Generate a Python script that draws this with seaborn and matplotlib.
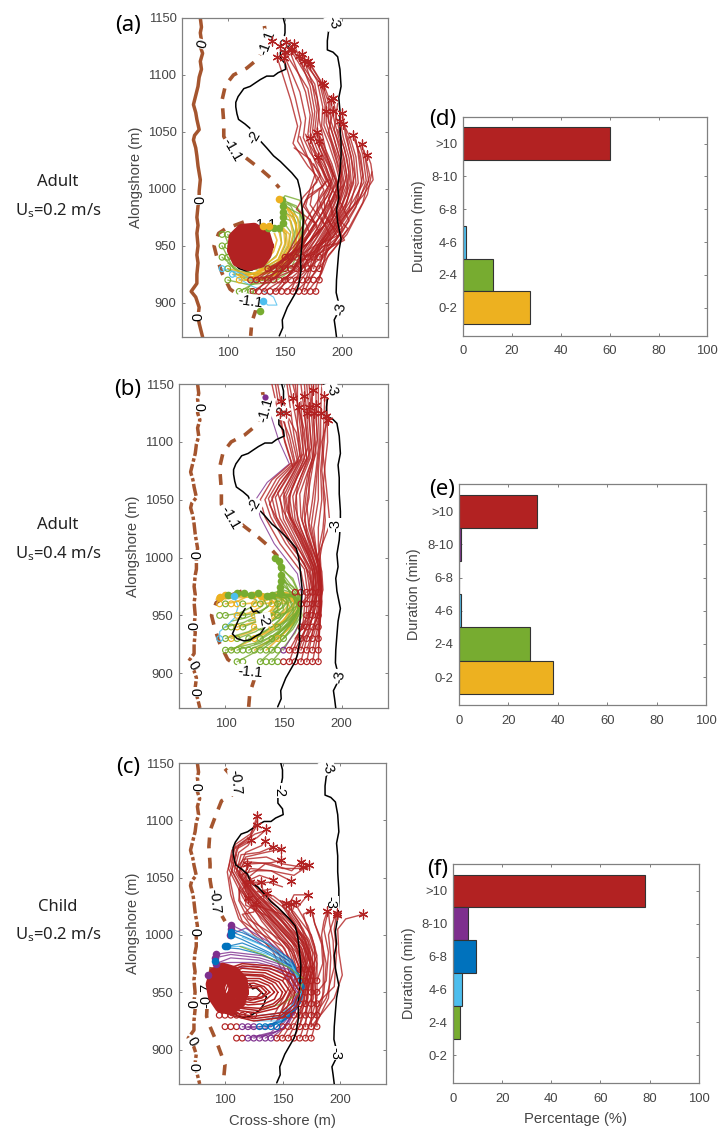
import matplotlib
matplotlib.use("Agg")
import matplotlib.pyplot as plt
import pandas as pd
import seaborn as sns

sns.set_theme(style="white")
plt.rcParams["font.family"] = ["Liberation Sans", "DejaVu Sans"]
plt.rcParams["mathtext.default"] = "regular"
plt.rcParams["lines.solid_capstyle"] = "round"

W, H = 721, 1130
YEL, GRN, LBL, BLU, PUR, RED = "#EDB120", "#77AC30", "#4DBEEE", "#0072BD", "#7E2F8E", "#B22222"
BRN = "#A5552E"
GREY = "#808080"
TXT = "#454545"

# ---------- bathymetry contours (cross-shore, alongshore) ----------
C0 = [(76,1150),(77,1142),(76,1137),(77,1130),(76,1125),(78,1119),(76,1112),(77,1105),(75,1098),(74,1090),(72,1082),(70,1074),
      (72,1067),(73,1061),(75,1052),(71,1047),(70,1043),(72,1036),(73,1029),(74,1020),(76,1008),(75,998),(75,990),(74,985),
      (73,975),(74,968),(73,961),(74,950),(73,942),(74,935),(73,925),(73,917),(68,910),(72,905),(75,896),(74,888),(75,882),(78,870)]
C2 = [(148.5,1150),(150,1144),(150,1137),(149,1132),(150,1127),(146,1120),(146,1115),(150,1110),(150.6,1105),(144,1102),(140,1099),(134,1099),
      (128.5,1096),(124,1093),(119.6,1090),(114,1088),(109,1081),(107,1076),(107,1072),(108,1066),(109.4,1061),(115,1057),(119.6,1053),
      (123,1045),(128.5,1042),(134,1036),(140,1029),(146,1024),(152,1018),(156,1014),(161,1008),(163,1000),(164,993),(165,983),
      (166,973),(165,955),(163.6,938),(164,928),(162,916),(160,910),(156,903),(152,896),(147.6,885),(148,878),(145,871)]
C2_IN = [(117,956),(114,951),(111.5,947),(109,941),(106,934),(110,930),(116,928),(121.5,929),(126,932),(130,934),(134,940),(136,946),(127,954),(124,953),(121.6,957)]
C3 = [(184.4,1150),(191,1146),(188,1138),(187,1130),(187,1122),(192,1120),(196,1116),(198,1105),(199,1090),(197,1080),(198,1069),(198,1055),
      (199,1040),(199,1029),(198,1015),(196,1003),(197,992),(195,982),(196,971),(199,956),(197,945),(196,933),(195,920),(194.7,909),
      (198,895),(193,885),(194,878),(195,870)]
C11_A = [(132,1143),(134,1128),(125,1113),(116.6,1106),(105,1100),(98,1091),(95,1078),(96.5,1058),(96.5,1046),
         (103,1034),(111,1031),(120,1024),(129,1017),(137,1010),(145,1001)]
C11_B = [(114,971),(98,965),(92,961),(88,950),(91,938),(95,926),(102,912),(112,905),(125.6,897),(121,883),(120,871)]
C07_A = [(100,1145),(106,1138),(109,1130),(106,1122),(97,1117),(93,1107),(87,1091),(86,1077),(87,1062),(87,1048),
         (90,1030),(96,1019),(100,1012)]
C07_B = [(88,972),(85,950),(84,929),(87,920),(93,906),(100,887),(98.5,871)]

LABELS_A = [("0",78,1127,75),("0",76,990,90),("0",74,888,90),("-1.1",134,1128,70),("-1.1",103.5,1034,-60),
            ("-1.1",120,901,-8),("-1.1",132,968,0),("-2",150.5,1127,70),("-2",123,1045,60),("-3",192,1146,-70),("-3",198.5,895,80)]
LABELS_B = [("0",80,1130,90),("0",76,1002,90),("0",73,941,90),("0",72,907,-60),("0",77,884,90),("-1.1",134.5,1128,75),
            ("-1.1",104,1034,-60),("-1.1",121,901,-5),("-2",149,1125,70),("-2",125,1045,60),("-2",133,946,-80),
            ("-3",191,1145,-70),("-3",195,1028,90),("-3",198.5,897,80)]
LABELS_C = [("0",78,1129,90),("0",77,1003,90),("0",73,940,90),("0",71,907,-60),("0",76,885,90),("-0.7",109.5,1133,-85),
            ("-0.7",90.5,1029,-85),("-0.7",84,947,90),("-2",147.5,1126,-90),("-3",189,1146,-70),("-3",192,1028,-90),("-3",196,897,-90)]

# ---------- panel (a) trajectories ----------
A_RED = [
 [(125,910),(148,935),(164,965),(176,985),(184,999),(178,1011),(170,1020),(157,1040),(161,1055),(155,1078),(143,1116)],
 [(130,910),(152,935),(168,965),(180,985),(188,1000),(180,1014),(168,1030),(161,1042),(164,1058),(159,1080),(149,1115)],
 [(135,920),(155,940),(170,965),(182,985),(190,1000),(183,1016),(172,1032),(166,1045),(168,1062),(163,1085),(146,1125)],
 [(140,920),(160,940),(174,965),(186,985),(192,1000),(185,1018),(176,1034),(170,1048),(172,1065),(168,1085),(151,1129)],
 [(145,910),(163,940),(178,965),(188,985),(195,1000),(188,1020),(180,1036),(174,1050),(176,1068),(172,1090),(158,1127)],
 [(150,920),(166,942),(180,965),(190,985),(197,1002),(191,1022),(184,1038),(178,1052),(180,1070),(176,1092),(156,1123)],
 [(155,910),(170,945),(183,965),(192,985),(199,1002),(194,1022),(188,1040),(182,1055),(183,1072),(178,1095),(165,1118)],
 [(160,920),(173,945),(186,967),(195,985),(201,1004),(197,1025),(191,1042),(186,1058),(186,1075),(181,1095),(172,1110)],
 [(165,910),(176,945),(188,967),(197,985),(204,1004),(200,1025),(195,1045),(190,1060),(189,1078),(184,1091)],
 [(170,920),(178,945),(190,968),(200,985),(207,1005),(204,1027),(199,1045),(195,1062),(192,1080)],
 [(175,930),(180,950),(193,970),(203,987),(210,1005),(208,1028),(203,1046),(200,1067)],
 [(178,940),(183,952),(196,972),(206,988),(214,1005),(212,1028),(207,1045),(201,1057)],
 [(180,930),(186,955),(199,974),(210,990),(219,1006),(216,1030),(209,1047)],
 [(180,920),(188,955),(202,976),(215,992),(223,1007),(220,1028),(217,1039)],
 [(176,910),(190,955),(204,978),(218,994),(227,1008),(225,1022),(222,1030)],
 [(122,910),(145,925),(165,950),(182,978),(193,1001),(186,1019),(178,1035),(172,1050),(174,1066),(170,1088),(150,1120)],
 [(127,920),(150,930),(172,955),(186,978),(196,1002),(190,1021),(182,1037),(176,1051),(178,1069),(174,1091),(155,1122)],
 [(132,910),(155,925),(176,955),(190,978),(200,1003),(195,1024),(190,1041),(184,1056),(185,1073),(180,1094),(162,1117)],
 [(137,920),(160,930),(180,955),(194,978),(202,1004),(198,1026),(193,1044),(188,1059),(188,1076),(182,1093),(170,1112)],
 [(142,910),(165,930),(184,958),(198,980),(205,1004),(202,1026),(197,1045),(193,1060),(190,1078)],
 [(147,920),(170,935),(188,960),(202,980),(208,1005),(206,1027),(201,1045),(198,1060)],
 [(152,930),(175,945),(192,962),(206,982),(212,1005),(210,1028),(205,1046)],
 [(157,910),(178,940),(196,964),(210,985),(217,1006),(214,1030),(212,1043)],
 [(162,930),(182,948),(200,966),(214,988),(221,1007),(218,1030),(215,1040)],
 [(167,910),(180,935),(194,955),(206,972),(200,985),(191,1000),(185,1012),(179,1028)],
 [(172,930),(165,945),(178,962),(192,975),(198,990),(194,1008),(186,1026),(180,1042)],
 [(145,930),(165,948),(180,962),(168,985),(172,1000),(176,1012),(169,1030),(163,1046)],
 [(150,940),(170,952),(185,968),(172,986),(175,1003),(181,1012),(174,1030),(168,1048)],
 [(155,930),(175,945),(190,958),(178,982),(180,998),(186,1007),(178,1027),(172,1045)],
 [(165,930),(182,945),(196,958),(185,978),(184,995),(190,1006),(183,1028),(176,1047)],
 [(140,930),(160,945),(178,968),(166,985),(170,994),(184,1003),(175,1022)],
 [(135,930),(155,942),(172,960),(164,980),(168,990),(178,998),(188,1008)],
 [(160,940),(176,950),(188,955),(198,960),(185,975),(180,990),(189,1004),(182,1020),(171,1040)],
 [(170,940),(184,950),(195,952),(205,965),(192,978),(188,992),(195,1006),(188,1024),(178,1050)],
 [(175,940),(188,948),(202,955),(192,972),(190,985),(198,1000),(200,1020),(194,1040),(186,1068)],
 [(180,940),(192,950),(200,965),(196,980),(204,995),(206,1015),(202,1035),(196,1052)],
 [(122,920),(145,935),(165,958),(176,978),(188,995),(192,1012),(186,1032),(180,1060),(178,1080),(167,1112)],
 [(125,920),(150,938),(168,958),(180,975),(192,992),(199,1012),(194,1030),(188,1050),(192,1068)],
 [(130,920),(152,942),(170,952),(186,970),(198,990),(204,1012),(200,1032),(193,1052),(196,1075)],
 [(140,910),(158,930),(176,948),(192,966),(204,988),(211,1012),(206,1035),(203,1052)],
 [(150,910),(168,928),(184,942),(200,962),(212,984),(218,1012),(214,1034),(211,1046)],
 [(160,910),(176,926),(192,946),(206,966),(218,988),(224,1012),(219,1034)],
 [(170,910),(182,926),(188,942),(204,960),(222,995),(226,1015)],
 [(150,930),(165,952),(176,970),(160,982),(166,993),(178,1006),(172,1026),(158,1036)],
]
A_SPIRAL = [
 [(136,950),(133,960),(123,966),(112,965),(105,958),(103.5,946),(108,936),(118,932),(129,935),(134,942),(136,950)],
 [(129,950),(127,957),(120,960),(113,958),(110,951),(111,944),(116,939),(123,940),(127,944),(129,950)],
 [(122,950),(121,953),(118,954),(116,952),(116,949),(118,946),(121,947),(122,950)],
]
A_GREEN = [
 [(100,935),(115,922),(135,921),(152,932),(163,950),(166,972),(160,985),(148,990)],
 [(95,950),(105,930),(122,921),(142,925),(157,940),(164,958),(163,978),(149,985)],
 [(100,950),(108,932),(125,924),(145,928),(157,945),(161,962),(158,975),(148,980)],
 [(95,940),(110,928),(128,925),(146,932),(155,948),(158,962),(155,972),(148,975)],
 [(97,960),(108,935),(128,928),(145,936),(153,950),(155,962),(150,969),(147,970)],
 [(100,960),(112,935),(130,930),(144,938),(150,950),(151,960),(146,965),(142,966)],
 [(100,940),(115,930),(132,932),(143,942),(147,953),(146,962),(140,966)],
 [(105,925),(120,925),(135,927),(150,938),(158,955),(160,970),(154,983),(147,987)],
 [(110,910),(125,918),(140,925),(155,935),(162,952),(163,970),(155,985),(146,990)],
 [(115,910),(122,918),(128,920)],
 [(120,910),(128,905),(128,893)],
 [(100,930),(118,919),(138,920),(156,932),(165,952),(167,975),(163,990),(150,994),(147,990)],
 [(100,920),(118,916),(140,918),(158,930),(166,950),(166,970),(162,982),(152,988)],
]
A_YELLOW = [
 [(105,925),(122,923),(142,928),(156,942),(161,960),(157,978),(146,988)],
 [(100,930),(120,925),(140,932),(153,945),(157,960),(154,975),(147,982)],
 [(110,920),(128,920),(146,926),(159,942),(163,958),(161,975),(150,985)],
 [(115,920),(130,926),(146,934),(153,948),(154,960),(148,966),(136,966)],
 [(120,920),(130,932),(142,940),(147,952),(145,962),(131,967)],
 [(125,920),(132,935),(140,945),(143,955),(140,963),(128,967)],
 [(110,925),(126,926),(143,934),(152,950),(151,962),(143,968),(132,967)],
 [(112,922),(128,928),(144,938),(150,952),(149,963),(140,967)],
 [(118,922),(134,922),(150,930),(160,948),(160,968),(152,982)],
]
A_BLUE = [[(104,925),(120,915),(128,912),(140,905),(143,898),(135,898),(131,902)], [(95,930),(112,926),(125,918)]]
A_STARTS_RED = {910:[122,127,132,137,142,147,152,157,162,167,172,177],
                920:[120,125,130,135,140,145,150,155,160,165,170,175,180],
                930:[135,140,145,150,155,160,165,170,175,180],
                940:[150,155,160,165,170,175,180]}
A_STARTS_GRN = {960:[95,100],950:[95,100],940:[95,100],930:[100],920:[100],910:[110,115,120]}
A_STARTS_LBL = {930:[95],925:[104]}
A_STARTS_YEL = {920:[110]}
A_END_GRN = [(147,990),(148,985),(148,980),(148,975),(148,970),(145,966),(140,966),(135,966),(128,893)]
A_END_YEL = [(145,991),(131,967),(136,967)]
A_END_LBL = [(131,902)]
A_STARS = [(139,1130),(146,1125),(151,1129),(149,1115),(158,1127),(156,1123),(165,1118),(172,1110),(162,1117),(155,1122),
           (150,1120),(143,1116),(184,1091),(192,1080),(200,1067),(201,1057),(209,1047),(217,1039),(222,1030),(180,1042),
           (179,1028),(172,1045),(198,1060),(190,1078),(182,1093),(167,1112),(170,1112),(192,1068),(178,1050),(186,1068)]

# ---------- panel (b) trajectories ----------
B_PURPLE = [[(150,920),(164,943),(166,966),(162,986),(142,1012),(130,1035),(126,1050),(136,1065),(155,1081),(146,1101),(134,1139)]]
B_RED = [
 [(155,910),(167,945),(169,968),(165,988),(147,1012),(134,1035),(130,1050),(140,1067),(157,1082),(150,1105),(140,1150)],
 [(155,920),(169,945),(171,968),(168,990),(152,1012),(139,1035),(134,1050),(144,1068),(159,1082),(153,1105),(145,1150)],
 [(160,910),(171,945),(173,968),(170,990),(157,1012),(144,1035),(140,1052),(150,1068),(162,1083),(157,1105),(150,1135)],
 [(160,920),(172,945),(175,968),(172,990),(161,1012),(150,1033),(147,1052),(156,1068),(165,1085),(161,1108),(152,1125)],
 [(165,910),(174,945),(177,968),(175,990),(165,1012),(155,1035),(152,1053),(160,1070),(168,1085),(165,1108),(160,1150)],
 [(165,930),(176,950),(179,968),(177,990),(169,1012),(160,1033),(158,1053),(165,1070),(172,1086),(170,1108),(165,1150)],
 [(170,910),(178,950),(181,970),(179,990),(172,1012),(165,1035),(164,1055),(170,1072),(175,1086),(173,1110),(170,1150)],
 [(170,930),(180,950),(183,970),(181,990),(174,1012),(168,1032),(172,1052),(172,1072),(178,1090),(176,1115),(174,1150)],
 [(175,910),(180,935),(182,960),(181,988),(176,1012),(172,1030),(175,1050),(178,1075),(180,1095),(178,1120),(178,1150)],
 [(175,930),(181,950),(183,975),(180,990),(178,1008),(176,1025),(180,1050),(180,1075),(182,1100),(182,1125),(183,1150)],
 [(180,910),(181,940),(183,975),(182,995),(181,1010),(184,1025),(186,1050),(183,1075),(185,1100),(187,1122)],
 [(180,930),(183,960),(179,1000),(190,1029),(188,1050),(183,1100),(188,1119)],
 [(165,920),(175,948),(178,970),(176,992),(167,1012),(158,1034),(155,1053),(162,1070),(170,1086),(167,1108),(163,1130)],
 [(170,920),(179,948),(182,972),(180,992),(173,1012),(166,1032),(168,1054),(171,1073),(176,1088),(175,1112),(172,1150)],
 [(175,920),(180,942),(183,968),(181,994),(177,1010),(174,1028),(177,1050),(179,1075),(181,1097),(180,1125),(180,1150)],
 [(180,920),(182,950),(183,972),(181,995),(180,1010),(180,1026),(183,1050),(182,1075),(184,1100),(185,1125),(186,1150)],
 [(165,940),(174,955),(176,972),(173,990),(163,1012),(152,1034),(150,1053),(158,1069),(166,1085),(163,1108),(155,1150)],
 [(170,950),(178,962),(180,975),(178,992),(170,1012),(162,1033),(161,1054),(167,1071),(173,1086),(171,1110),(168,1150)],
 [(175,960),(180,970),(180,985),(175,1000),(166,1018),(156,1034),(154,1052),(162,1070),(170,1085),(168,1110),(158,1150)],
 [(180,950),(183,962),(182,980),(178,1000),(170,1020),(168,1040),(170,1060),(174,1080),(177,1100),(176,1125)],
 [(165,960),(172,968),(173,980),(168,995),(155,1012),(142,1035),(137,1051),(147,1068),(160,1082),(155,1105),(147,1125)],
 [(170,970),(176,975),(175,988),(169,998),(158,1015),(147,1034),(143,1052),(153,1068),(163,1084),(159,1106),(153,1150)],
 [(178,945),(181,958),(179,985),(174,1004),(165,1025),(160,1044),(162,1062),(168,1078),(174,1095),(172,1120),(176,1150)],
 [(172,940),(178,958),(178,985),(170,1005),(160,1025),(154,1042),(157,1060),(164,1076),(171,1095),(168,1125),(168,1135)],
 [(168,960),(175,970),(176,985),(171,1002),(161,1020),(150,1040),(145,1056),(154,1071),(164,1088),(162,1115),(162,1150)],
 [(175,970),(178,978),(176,992),(172,1003),(163,1022),(153,1040),(150,1058),(158,1073),(167,1090),(166,1115),(165,1135)],
 [(180,960),(184,972),(183,988),(178,1005),(172,1025),(170,1046),(173,1066),(176,1084),(179,1102),(178,1130)],
 [(180,970),(182,980),(181,998),(184,1015),(186,1032),(184,1060),(186,1082),(188,1100),(187,1150)],
 [(160,930),(172,948),(176,968),(173,985),(160,1008),(146,1030),(138,1046),(146,1062),(158,1078),(151,1100),(143,1150)],
]
B_GREEN = [
 [(100,920),(125,926),(148,940),(160,955),(164,968),(158,982),(148,990),(146,997)],
 [(110,920),(130,926),(150,938),(162,952),(165,966),(158,975),(148,980)],
 [(120,920),(138,928),(155,942),(163,955),(162,968),(150,972),(136,968)],
 [(130,920),(145,930),(158,944),(164,955),(160,967),(145,968),(125,968)],
 [(140,920),(152,932),(161,945),(165,955),(158,966),(140,968),(115,969)],
 [(110,910),(125,918),(146,934),(158,950),(160,966),(150,977),(147,985)],
 [(130,910),(143,922),(156,938),(164,952),(165,965),(158,980),(148,992)],
 [(140,910),(150,922),(160,935),(166,950),(163,964),(156,968),(143,1000)],
 [(100,930),(120,936),(135,945),(145,955),(144,964),(125,967)],
 [(110,930),(126,936),(140,945),(150,955),(148,964),(130,966)],
 [(120,930),(134,936),(146,945),(154,955),(152,965),(136,967)],
 [(130,930),(142,938),(152,946),(158,955),(155,965),(142,967)],
 [(140,930),(150,938),(158,946),(163,956),(158,966),(147,968)],
 [(150,930),(158,938),(164,948),(166,957),(160,968),(150,975)],
 [(100,940),(116,944),(128,950),(136,958),(132,966),(118,969)],
 [(115,940),(128,945),(140,952),(146,960),(142,966),(128,969)],
 [(130,940),(142,946),(152,952),(158,960),(152,967),(138,968)],
 [(145,940),(154,946),(161,952),(164,960),(158,968),(146,969)],
 [(100,950),(112,952),(122,957),(127,963),(118,968),(108,969)],
 [(115,950),(126,952),(136,957),(140,963),(132,968),(120,969)],
 [(130,950),(140,952),(150,957),(154,963),(146,968),(132,968)],
 [(145,950),(154,953),(161,958),(163,963),(156,968),(144,968)],
 [(105,920),(122,930),(140,940),(152,952),(155,964),(148,972)],
 [(125,925),(140,932),(154,943),(162,955),(164,966),(155,975),(148,985)],
 [(135,925),(150,935),(160,948),(164,958),(162,970),(155,978),(146,990)],
 [(105,945),(118,948),(130,953),(140,960),(136,967),(122,969)],
 [(120,945),(134,948),(146,954),(152,961),(146,967),(130,968)],
]
B_YELLOW = [
 [(105,920),(125,930),(146,942),(158,955),(160,966),(150,970),(128,967)],
 [(125,920),(140,930),(154,942),(162,955),(160,966),(146,968),(118,968)],
 [(135,920),(148,932),(159,944),(164,956),(160,967),(152,970),(140,967)],
 [(105,930),(122,936),(136,945),(146,956),(142,965),(122,968)],
 [(125,930),(138,936),(150,945),(156,956),(152,965),(135,967)],
 [(145,930),(154,938),(161,947),(164,958),(158,967),(146,968)],
 [(110,940),(124,944),(136,951),(143,959),(138,966),(122,968)],
 [(125,940),(138,945),(148,951),(154,959),(148,966),(130,966)],
 [(140,940),(150,945),(158,951),(162,959),(154,966),(136,966)],
 [(110,950),(120,952),(130,957),(134,963),(124,968),(112,967)],
 [(125,950),(136,952),(145,957),(150,963),(142,968),(95,966)],
 [(140,950),(150,952),(157,957),(160,963),(150,968),(92,964)],
 [(100,960),(110,962),(118,966),(110,968)],
 [(115,960),(128,961),(138,964),(128,968)],
 [(130,960),(142,961),(150,964),(140,967)],
 [(145,960),(155,961),(160,964),(150,968)],
]
B_BLUE = [[(95,930),(95,936),(102,942),(108,948),(111,958),(107,967)]]
B_STARTS_RED = {910:[150,155,160,165,170,175,180],920:[155,160,165,170,175,180],930:[165,170,175,180],
                940:[165,170,175,180],950:[170,175,180],960:[165,170,175,180],970:[160,165,170,175,180]}
B_STARTS_GRN = {910:[110,115,130,135,140,145],920:[100,105,110,115,120,125,130,135,140,145],930:[100,110,120,130,140,150],
                940:[100,105,115,130,145],950:[95,100,115,130,145],960:[100,115,130,145]}
B_STARTS_YEL = {930:[105,125,145],940:[110,125,140],950:[110,125,140],960:[95,105,110,125,140],965:[95]}
B_STARTS_LBL = {930:[95]}
B_STARTS_PUR = {920:[150]}
B_END_GRN = [(143,1000),(148,992),(146,997),(148,985),(148,980),(147,975),(147,970),(140,968),(136,967),(128,969),(122,968),
             (116,969),(110,969),(102,968)]
B_END_YEL = [(95,966),(100,968),(131,967),(124,968)]
B_END_LBL = [(107,967)]
B_END_PUR = [(134,1139)]
B_STARS = [(152,1125),(148,1135),(158,1138),(172,1130),(176,1125),(187,1122),(188,1119),(163,1130),(147,1125),(170,1125),
           (178,1132),(182,1125),(175,1145),(168,1140),(185,1140)]

# ---------- panel (c) trajectories ----------
C_RED = [
 [(160,930),(167,955),(158,985),(138,1008),(116,1032),(103,1058),(106,1074),(120,1082),(128,1096)],
 [(165,930),(170,955),(160,985),(140,1008),(118,1032),(105,1058),(108,1076),(122,1086),(128,1104)],
 [(165,920),(171,955),(162,985),(142,1008),(120,1032),(106,1056),(110,1075),(128,1085),(136,1092)],
 [(170,930),(172,958),(163,988),(145,1008),(122,1032),(108,1056),(112,1072),(120,1078),(123,1083)],
 [(170,920),(173,958),(165,988),(147,1008),(124,1032),(110,1055),(114,1070),(130,1072),(142,1077)],
 [(175,930),(175,958),(167,988),(149,1008),(126,1032),(112,1053),(118,1068),(135,1072),(149,1075)],
 [(175,920),(176,960),(168,990),(151,1010),(128,1032),(114,1050),(122,1062),(140,1063),(149,1065)],
 [(180,930),(178,960),(170,992),(153,1012),(130,1032),(116,1048),(122,1058),(140,1056),(160,1052),(173,1061)],
 [(180,920),(178,965),(172,995),(155,1015),(132,1032),(118,1046),(119,1062)],
 [(175,940),(177,965),(169,992),(150,1012),(128,1034),(112,1056),(118,1064),(140,1062),(158,1056),(166,1064)],
 [(170,940),(174,962),(166,990),(146,1012),(124,1036),(110,1058),(116,1066),(136,1068),(150,1062),(168,1059)],
 [(165,940),(170,962),(162,990),(142,1012),(122,1038),(112,1052),(125,1056),(140,1056),(157.6,1047)],
 [(160,940),(168,960),(158,990),(140,1012),(122,1034),(115,1045),(130,1052),(142,1048)],
 [(155,940),(165,960),(155,988),(136,1012),(118,1038),(117,1046),(131,1046)],
 [(150,935),(162,960),(152,988),(132,1012),(115,1040),(121.6,1046)],
 [(150,925),(160,955),(150,985),(128,1010),(113,1030),(112,1040),(120,1032)],
 [(145,925),(158,955),(146,985),(128,1006),(118,1020),(130,1032),(136.6,1037)],
 [(140,925),(156,955),(142,985),(124,1006),(115,1018),(125,1020),(127,1027)],
 [(155,910),(172,945),(170,985),(160,1010),(150,1025),(153,1028)],
 [(160,910),(175,945),(174,985),(165,1010),(155,1025),(160,1035),(172.6,1035)],
 [(165,910),(177,945),(176,985),(168,1005),(158,1020),(162,1029)],
 [(170,910),(180,945),(180,980),(172,1005),(168,1018),(173.5,1021)],
 [(175,910),(185,945),(186,980),(184,1000),(186,1012),(189,1021)],
 [(178,920),(190,945),(192,980),(190,1000),(194,1012),(197,1019)],
 [(180,940),(195,955),(197,985),(195,1005),(197,1019)],
 [(175,920),(195,945),(202,965),(199,985),(198,1005),(205,1014),(220,1018)],
 [(150,910),(168,940),(174,975),(166,1000),(155,1018),(157,1027)],
 [(145,910),(165,940),(170,975),(160,1000),(146,1018),(134,1030),(132,1045)],
 [(180,950),(188,960),(190,985),(186,1005),(189,1018)],
 [(180,960),(185,975),(184,992),(178,1010),(175,1022)],
 [(172,950),(176,970),(167,994),(150,1016),(128,1040),(113,1060),(118,1072),(132,1078),(134.6,1082)],
 [(168,950),(172,970),(163,994),(146,1016),(125,1040),(108,1065),(112,1078),(126,1088),(132,1090)],
 [(165,950),(170,972),(160,994),(143,1014),(122,1036),(106,1064),(109,1079),(122,1088),(128,1100)],
 [(175,950),(178,972),(170,994),(152,1018),(134,1036),(120,1050),(135,1062),(150,1058),(172,1058)],
 [(178,960),(180,975),(173,996),(156,1020),(138,1034),(124,1044),(138,1046),(150,1042)],
 [(175,970),(180,982),(175,1000),(160,1020),(142,1034),(128,1038),(140,1040)],
 [(170,970),(173,985),(168,998),(150,1018),(132,1024),(122,1026)],
 [(165,960),(168,975),(158,994),(138,1016),(118,1026),(118,1034)],
 [(160,960),(165,972),(154,992),(136,1004),(120,1014),(112,1030),(113,1042)],
 [(155,960),(162,970),(150,990),(130,1002),(115,1012),(108,1030),(104,1050),(110,1070)],
 [(150,960),(158,970),(145,986),(125,1000),(112,1014),(105,1035),(102,1055),(106,1070)],
 [(172,960),(178,970),(178,990),(172,1008),(163,1024),(172,1035)],
 [(170,960),(175,975),(170,995),(160,1012),(148,1030),(153,1028)],
 [(178,930),(186,950),(188,975),(184,995),(178,1010),(176,1020)],
 [(172,920),(188,945),(195,972),(194,995),(191,1010),(190,1020)],
]
C_RINGS = [
 [(168,950),(160,965),(140,973),(115,975),(95,968),(86,955),(90,940),(105,930),(125,925),(150,928),(163,938),(168,950)],
 [(165,950),(157,963),(139,971),(115,973),(96,966),(88,953),(93,940),(106,931),(125,927),(149,930),(160,939),(165,950)],
 [(161,950),(154,961),(137,969),(115,971),(97,964),(90,952),(95,940),(108,932),(125,929),(148,932),(158,941),(161,950)],
 [(157,950),(150,960),(135,967),(115,968),(100,962),(94,950),(100,940),(112,934),(128,932),(145,936),(153,943),(157,950)],
 [(153,950),(147,959),(133,965),(115,966),(102,960),(97,950),(102,941),(114,936),(129,934),(143,938),(150,945),(153,950)],
 [(150,950),(144,958),(132,964),(115,965),(103,958),(100,950),(105,942),(115,937),(130,936),(142,940),(148,945),(150,950)],
 [(146,950),(141,957),(130,962),(116,962),(106,956),(104,949),(110,942),(120,939),(134,940),(143,944),(146,950)],
 [(143,950),(138,956),(128,960),(116,960),(108,955),(108,948),(114,942),(125,941),(136,944),(143,950)],
 [(139,950),(134,955),(125,958),(115,957),(110,952),(112,946),(122,943),(132,945),(139,950)],
 [(136,950),(131,955),(122,956),(113,953),(115,946),(124,944),(132,946),(136,950)],
 [(132,950),(128,954),(120,954),(116,950),(120,946),(128,946),(132,950)],
]
C_BLOB = [
 [(116,950),(115,960),(108,968),(98,971),(91,967),(88,957),(90,946),(96,937),(105,935),(113,941),(116,950)],
 [(108,951),(107,959),(101,963),(96,959),(95,952),(97,945),(103,943),(108,951)],
]
C_BLUE = [
 [(130,920),(150,925),(165,940),(167,955),(158,972),(135,985),(115,993),(102,990)],
 [(135,920),(152,927),(165,942),(168,955),(160,972),(138,985),(115,996),(105,1000)],
 [(140,920),(155,928),(166,942),(169,955),(160,974),(140,988),(118,998),(105,1003)],
 [(145,920),(157,930),(167,945),(168,958),(158,978),(138,992),(115,1002),(105,1005)],
 [(128,925),(150,929),(163,944),(165,957),(155,972),(132,983),(112,988),(100,989)],
]
C_LBLUE = [
 [(125,925),(148,925),(163,938),(167,952),(160,970),(140,982),(115,990),(100,990)],
 [(130,930),(150,932),(163,942),(166,956),(158,974),(135,990),(115,998)],
 [(140,930),(155,935),(165,946),(167,958),(156,978),(135,994),(115,1004)],
]
C_PURPLE = [
 [(120,910),(140,915),(158,932),(165,950),(155,970),(130,978),(105,980),(92,975)],
 [(125,910),(145,916),(160,934),(166,952),(156,972),(130,980),(105,983),(91,980)],
 [(130,910),(150,918),(162,936),(166,954),(156,974),(132,982),(105,985),(92,983)],
 [(135,910),(152,920),(163,938),(167,955),(158,976),(135,990),(115,1004),(105,1009)],
 [(140,910),(155,922),(164,940),(167,956),(159,977),(138,994),(118,1006),(104,1000)],
 [(115,920),(135,918),(155,932),(163,950),(150,968),(125,973),(100,970),(85,965)],
 [(120,920),(140,920),(157,935),(164,952),(152,970),(128,976),(105,976),(90,975)],
]
C_GREEN = [[(130,935),(150,940),(165,950),(168,962),(155,972),(135,982),(113,990)]]
C_STARTS_RED = {910:[110,115,145,150,155,160,165,170,175],
                920:[100,105,110,150,155,160,165,170,175,180],
                930:[95,100,105,110,115,120,125,150,155,160,165,170,175,180],
                940:[95,100,105,165,170,175,180],950:[170,175,180],960:[165,170,175,180],970:[165,170,175]}
C_STARTS_PUR = {910:[120,125,130,135,140],920:[115,120,125]}
C_STARTS_BLU = {920:[130,135,140,145]}
C_END_PUR = [(92,975),(91,980),(92,983),(85,965),(105,1009),(104,1000),(105,1005)]
C_END_BLU = [(102,990),(105,1000),(105,1003),(100,990),(91,977)]
C_STARS = [(128,1104),(128,1096),(136,1092),(123,1083),(134.6,1082),(142,1077),(149,1075),(149,1065),(119,1062),(166,1064),
           (168,1059),(173,1061),(142,1048),(157.6,1047),(121.6,1046),(131,1046),(120,1032),(136.6,1037),(127,1027),
           (172.6,1035),(153,1028),(157,1027),(162,1029),(173.5,1021),(189,1021),(197,1019),(197,1017),(220,1018)]

# ---------- bar data ----------
DURATIONS = [">10", "8-10", "6-8", "4-6", "2-4", "0-2"]
BAR_COLORS = [RED, PUR, BLU, LBL, GRN, YEL]
PCT_D = [60, 0, 0, 1, 12, 27.3]
PCT_E = [31.5, 0.8, 0, 0.8, 28.7, 38]
PCT_F = [78.3, 6.3, 9.2, 3.5, 2.7, 0.2]

fig = plt.figure(figsize=(W / 100, H / 100), dpi=100)
fig.patch.set_facecolor("white")


def axes_px(l, t, r, b):
    return fig.add_axes([l / W, 1 - b / H, (r - l) / W, (b - t) / H])


def style(ax):
    ax.set_facecolor("white")
    for s in ax.spines.values():
        s.set_color(GREY)
        s.set_linewidth(0.9)
    ax.tick_params(direction="in", length=2.5, width=0.7, color=GREY, labelcolor=TXT, labelsize=9.4,
                   top=True, right=True, bottom=True, left=True)
    ax.tick_params(axis="y", pad=4)
    ax.tick_params(axis="x", pad=7)
    ax.grid(False)


def draw(ax, lines, color, lw=1.0, z=3, alpha=0.8, **kw):
    rows = [(i, x, y) for i, ln in enumerate(lines) for x, y in ln]
    df = pd.DataFrame(rows, columns=["t", "x", "y"])
    sns.lineplot(data=df, x="x", y="y", units="t", estimator=None, sort=False, color=color,
                 lw=lw, zorder=z, alpha=alpha, ax=ax, legend=False, **kw)


def circles(ax, rows, color, z=4):
    xs = [x for y, r in rows.items() for x in r]
    ys = [y for y, r in rows.items() for _ in r]
    ax.scatter(xs, ys, s=17, facecolors="none", edgecolors=color, linewidths=0.85, zorder=z)


def dots(ax, pts, color, s=30, z=6):
    sns.scatterplot(x=[p[0] for p in pts], y=[p[1] for p in pts], color=color, s=s, linewidth=0, zorder=z, ax=ax, legend=False)


def stars(ax, pts):
    sns.scatterplot(x=[p[0] for p in pts], y=[p[1] for p in pts], color=RED, s=42, marker=(6, 2, 0), linewidth=0.9,
                    zorder=6, ax=ax, legend=False)


def map_axes(box, labels, kind, zero_dash):
    ax = axes_px(*box)
    style(ax)
    draw(ax, [C2, C2_IN, C3], "black", lw=1.1, z=4.5, alpha=1)
    if kind == "adult":
        draw(ax, [C11_A, C11_B], BRN, lw=2.6, z=2, alpha=1, linestyle=(0, (3, 2.6)))
    else:
        draw(ax, [C07_A, C07_B], BRN, lw=2.6, z=2, alpha=1, linestyle=(0, (3, 2.6)))
    draw(ax, [C0], BRN, lw=2.5, z=2, alpha=1, linestyle=zero_dash)
    for t, x, y, r in labels:
        ax.text(x, y, t, fontsize=10.5, color="black", rotation=r, ha="center", va="center", zorder=4.6,
                bbox=dict(facecolor="white", edgecolor="none", pad=0.5))
    ax.set_xlim(60, 240)
    ax.set_ylim(870, 1150)
    ax.set_xticks([100, 150, 200])
    ax.set_yticks([900, 950, 1000, 1050, 1100, 1150])
    return ax


def finish_map(ax, xlabel=""):
    ax.set_xlabel(xlabel, fontsize=10.6, color=TXT, labelpad=6)
    ax.set_ylabel("Alongshore (m)", fontsize=10.6, color=TXT, labelpad=3)


def bar_axes(box, vals, xlabel=""):
    ax = axes_px(*box)
    style(ax)
    sns.barplot(x=vals, y=DURATIONS, hue=DURATIONS, order=DURATIONS, hue_order=DURATIONS, palette=BAR_COLORS,
                orient="h", width=1.0, dodge=False, edgecolor="#333333", linewidth=0.8, legend=False, ax=ax, saturation=1)
    ax.set_xlim(0, 100)
    ax.set_ylim(5.85, -0.82)
    ax.set_xticks(range(0, 101, 20))
    ax.set_xlabel(xlabel, fontsize=10.6, color=TXT, labelpad=5)
    ax.set_ylabel("Duration (min)", fontsize=10.4, color=TXT, labelpad=4)
    return ax


# panel a
ax = map_axes((182, 18, 388, 337), LABELS_A, "adult", "-")
draw(ax, A_GREEN, GRN, lw=1.0, z=3)
draw(ax, A_YELLOW, YEL, lw=1.2, z=3.1)
draw(ax, A_BLUE, LBL, lw=0.8, z=3.2)
circles(ax, A_STARTS_GRN, GRN)
circles(ax, A_STARTS_YEL, YEL)
circles(ax, A_STARTS_LBL, LBL)
draw(ax, A_RED, RED, z=3.5)
circles(ax, A_STARTS_RED, RED)
draw(ax, A_SPIRAL, RED, lw=7, z=5, alpha=1)
dots(ax, A_END_GRN, GRN)
dots(ax, A_END_YEL, YEL)
dots(ax, A_END_LBL, LBL)
stars(ax, A_STARS)
finish_map(ax)

# panel b
ax = map_axes((179, 384, 388, 708), LABELS_B, "adult", (0, (3.5, 0.7, 1.0, 0.7)))
draw(ax, B_YELLOW, YEL, lw=1.2, z=3)
draw(ax, B_GREEN, GRN, lw=1.0, z=3.1)
draw(ax, B_BLUE, LBL, lw=0.9, z=3.2)
circles(ax, B_STARTS_YEL, YEL)
circles(ax, B_STARTS_GRN, GRN)
circles(ax, B_STARTS_LBL, LBL)
circles(ax, B_STARTS_PUR, PUR)
draw(ax, B_PURPLE, PUR, lw=0.8, z=3.3)
draw(ax, B_RED, RED, z=3.5)
circles(ax, B_STARTS_RED, RED)
dots(ax, B_END_YEL, YEL)
dots(ax, B_END_GRN, GRN)
dots(ax, B_END_LBL, LBL)
dots(ax, B_END_PUR, PUR, s=20)
stars(ax, B_STARS)
finish_map(ax)

# panel c
ax = map_axes((179, 763, 386, 1084), LABELS_C, "child", (0, (3.5, 0.7, 1.0, 0.7)))
draw(ax, C_RED, RED, z=3)
draw(ax, C_PURPLE, PUR, lw=0.9, z=3.2)
draw(ax, C_BLUE, BLU, lw=0.9, z=3.3)
draw(ax, C_LBLUE, LBL, lw=0.8, z=3.4)
draw(ax, C_GREEN, GRN, lw=0.9, z=3.5)
circles(ax, C_STARTS_RED, RED)
circles(ax, C_STARTS_PUR, PUR)
circles(ax, C_STARTS_BLU, BLU)
draw(ax, C_RINGS, RED, lw=1.1, z=5, alpha=1)
draw(ax, C_BLOB, RED, lw=8, z=5.1, alpha=1)
dots(ax, C_END_PUR, PUR)
dots(ax, C_END_BLU, BLU)
stars(ax, C_STARS)
finish_map(ax, "Cross-shore (m)")

# bars
bar_axes((463.3, 116.7, 707.3, 335.7), PCT_D)
bar_axes((458.7, 484, 706.3, 705.3), PCT_E)
bar_axes((453, 864, 698.7, 1083.3), PCT_F, xlabel="Percentage (%)")


def ftext(px, py, s, size, family="Noto Sans", color="#222222"):
    fig.text(px / W, 1 - py / H, s, fontsize=size, family=family, color=color, ha="center", va="center")


PANEL_TAGS = [("(a)", 128, 25), ("(b)", 128, 390), ("(c)", 128, 767), ("(d)", 443, 119), ("(e)", 442, 490), ("(f)", 438, 869)]
for tag, px, py in PANEL_TAGS:
    ftext(px, py, tag, 16, color="black")

SIDE = [("Adult", 58, 182), ("U$_s$=0.2 m/s", 58, 211), ("Adult", 58, 525), ("U$_s$=0.4 m/s", 58, 554),
        ("Child", 58, 907), ("U$_s$=0.2 m/s", 58, 935)]
for s, px, py in SIDE:
    ftext(px, py, s, 12)

fig.savefig("out.png", dpi=100, facecolor="white")
